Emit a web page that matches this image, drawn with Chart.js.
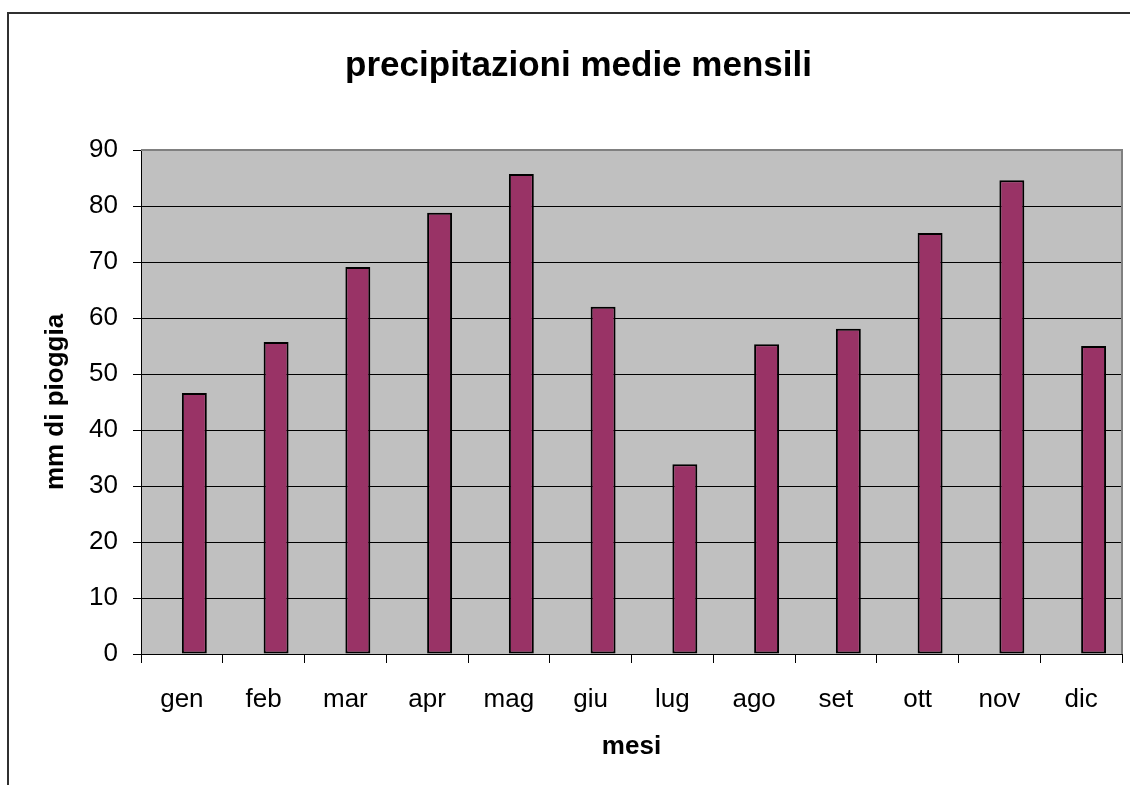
<!DOCTYPE html>
<html><head><meta charset="utf-8">
<script src="https://cdn.jsdelivr.net/npm/chart.js@4/dist/chart.umd.min.js"></script>
<style>html,body{margin:0;padding:0;background:#fff}canvas{display:block}</style>
</head><body>
<canvas id="c" width="1130" height="785"></canvas>
<script>
const categories = ['gen','feb','mar','apr','mag','giu','lug','ago','set','ott','nov','dic'];
const rainfall = [46.6, 55.7, 69.1, 78.8, 85.7, 62.0, 33.9, 55.3, 58.1, 75.2, 84.6, 55.0];
const yTickValues = [0, 10, 20, 30, 40, 50, 60, 70, 80, 90];
const emptySlot = categories.map(() => null);

Chart.defaults.font.family = '"Liberation Sans", Arial, sans-serif';
Chart.defaults.color = '#000';

const decor = {
  id: 'decor',
  beforeDraw(chart) {
    const {ctx, chartArea: a} = chart;
    ctx.save();
    ctx.fillStyle = '#c0c0c0';
    ctx.fillRect(a.left, a.top, a.right - a.left, a.bottom - a.top);
    ctx.restore();
  },
  afterDraw(chart) {
    const {ctx, chartArea: a} = chart;
    ctx.save();
    ctx.strokeStyle = '#808080';
    ctx.lineWidth = 2;
    ctx.beginPath();
    ctx.moveTo(a.left, a.top);
    ctx.lineTo(a.right, a.top);
    ctx.lineTo(a.right, a.bottom);
    ctx.stroke();
    ctx.strokeStyle = '#303030';
    ctx.lineWidth = 2;
    ctx.beginPath();
    ctx.moveTo(8, 785);
    ctx.lineTo(8, 13);
    ctx.lineTo(1130, 13);
    ctx.stroke();
    ctx.restore();
  }
};

new Chart(document.getElementById('c'), {
  type: 'bar',
  data: {
    labels: categories,
    datasets: [
      { label: '', data: emptySlot, backgroundColor: '#993366' },
      { label: 'mm di pioggia', data: rainfall, backgroundColor: '#993366',
        borderColor: '#000', borderWidth: 2, borderSkipped: false }
    ]
  },
  options: {
    responsive: false,
    animation: false,
    devicePixelRatio: 1,
    categoryPercentage: 0.61,
    barPercentage: 1.0,
    layout: { padding: { left: 35, right: 8, top: 0, bottom: 0 } },
    plugins: {
      legend: { display: false },
      tooltip: { enabled: false },
      title: {
        display: true,
        text: 'precipitazioni medie mensili',
        font: { size: 35, weight: 'bold' },
        color: '#000',
        padding: { top: 45, bottom: 63 }
      }
    },
    scales: {
      x: {
        offset: true,
        grid: { display: true, offset: true, drawOnChartArea: false, drawTicks: true, tickLength: 9, color: '#000' },
        border: { display: true, color: '#000', width: 1 },
        ticks: { font: { size: 26 }, color: '#000', padding: 21, maxRotation: 0 },
        title: { display: true, text: 'mesi', font: { size: 26, weight: 'bold' }, color: '#000', padding: { top: 0, bottom: 23 } },
        afterFit(s) { s.height = 131; }
      },
      y: {
        min: 0, max: 90,
        afterBuildTicks(s) { s.ticks = yTickValues.map(v => ({ value: v })); },
        grid: { color: '#000', lineWidth: 1, drawTicks: true, tickLength: 8 },
        border: { display: true, color: '#000', width: 1 },
        ticks: { font: { size: 26 }, color: '#000', padding: 15 },
        title: { display: true, text: 'mm di pioggia', font: { size: 26, weight: 'bold' }, color: '#000', padding: { top: 5, bottom: 0 } },
        afterFit(s) { s.width = 106; }
      }
    }
  },
  plugins: [decor]
});
</script>
</body></html>
